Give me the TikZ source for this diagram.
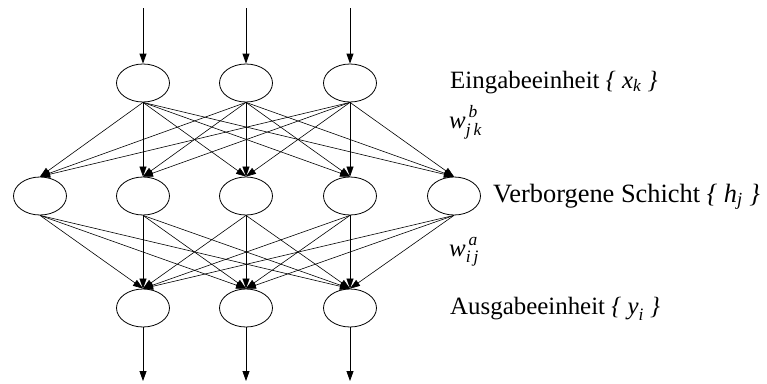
\documentclass[tikz,border=0pt]{standalone}
\usepackage{amsmath}
\usepackage{fontspec}
\setmainfont{Liberation Serif}
\usepackage{tikz}
\usetikzlibrary{arrows.meta, shapes.geometric}
\tikzstyle{neuron} = [ellipse,
minimum width=53bp,
minimum height=38bp,
inner sep=0pt,
draw=black,
line width=0.8bp]
\tikzstyle{lbl} = [anchor=base west, inner sep=0pt, font=\fontsize{25}{30}\selectfont]
\tikzstyle{arrow} = [line width=0.8bp,-{Triangle[length=10bp,width=7bp]}]
\tikzstyle{edge} = [line width=0.6bp,-{Triangle[length=10bp,width=7bp]}]

\begin{document}
\begin{tikzpicture}[x=1bp, y=-1bp]
    \useasboundingbox (0,0) rectangle (767,383);

    % Eingabe
    \node (in1) [neuron] at (143,83) {};
    \node (in2) [neuron] at (246,83) {};
    \node (in3) [neuron] at (350,83) {};

    % Verborgen
    \node (h1) [neuron] at (40,196) {};
    \node (h2) [neuron] at (143,196) {};
    \node (h3) [neuron] at (246,196) {};
    \node (h4) [neuron] at (350,196) {};
    \node (h5) [neuron] at (454,196) {};

    % Ausgabe
    \node (out1) [neuron] at (143,308) {};
    \node (out2) [neuron] at (246,308) {};
    \node (out3) [neuron] at (350,308) {};

    \coordinate (top1) at (143,8);
    \coordinate (top2) at (246,8);
    \coordinate (top3) at (350,8);
    \coordinate (bot1) at (143,381);
    \coordinate (bot2) at (246,381);
    \coordinate (bot3) at (350,381);

    % Beschriftung
    \node (lin) [lbl] at (450,88) {Eingabeeinheit \textit{\{} $\textit{x}_{\textit{k}}$ \textit{\}}};
    \node (wb) [lbl] at (449,128) {$\textit{w}_{\textit{j\,k}}^{\,\text{\raisebox{2bp}{\textit{b}}}}$};
    \node (lh) [lbl, font=\fontsize{26.5}{31}\selectfont] at (493,202) {Verborgene Schicht \textit{\{} $\textit{h}_{\textit{j}}$ \textit{\}}};
    \node (wa) [lbl] at (449,256) {$\textit{w}_{\textit{i\,j}}^{\,\text{\raisebox{2bp}{\textit{a}}}}$};
    \node (lout) [lbl] at (450,314) {Ausgabeeinheit \textit{\{} $\textit{y}_{\textit{i}}$ \textit{\}}};

    % Ein- und Ausgaenge
    \foreach \i in {1,2,3} {
        \draw [arrow] (top\i) -- (in\i.north);
        \draw [arrow] (out\i.south) -- (bot\i);
    }

    % Gewichte
    \foreach \k in {1,2,3} {
        \foreach \j in {1,...,5} {
            \draw [edge] (in\k.south) -- (h\j.north);
            \draw [edge] (h\j.south) -- (out\k.north);
        }
    }
\end{tikzpicture}
\end{document}
